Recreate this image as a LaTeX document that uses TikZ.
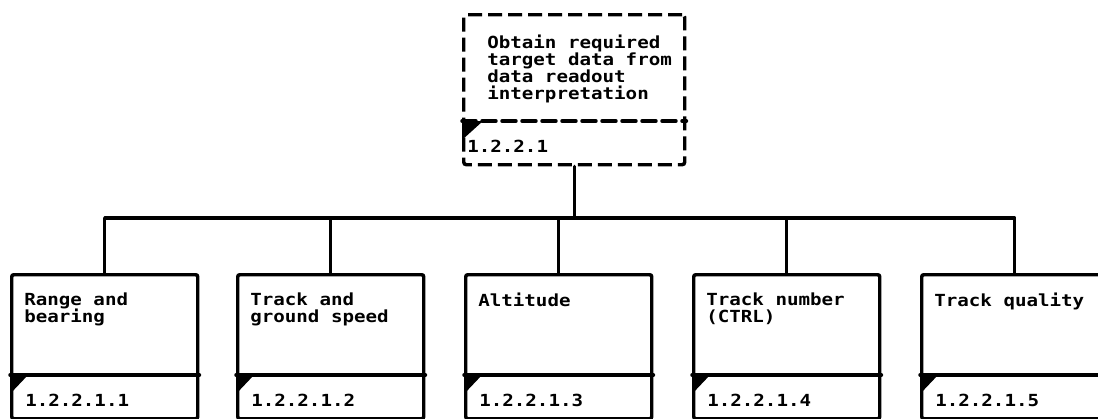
\documentclass[tikz,border=0pt]{standalone}
\usepackage{fontspec}
\newfontfamily\lpfont{DejaVu Sans Mono}[FakeStretch=1.15]
\newcommand\lpsize{\fontsize{12.5}{12.6}\selectfont\lineskiplimit=-20pt}
\begin{document}
\begin{tikzpicture}[x=0.75pt,y=-0.75pt,
  rule/.style={line width=2.6pt, line cap=round, line join=round},
  taskbox/.style={draw, line width=2.6pt, rounded corners=1.5pt, inner sep=0pt,
    minimum width=139.5pt, minimum height=108pt, anchor=north west},
  parentbox/.style={draw, line width=2.6pt, dash pattern=on 10.5pt off 4.5pt,
    rounded corners=2pt, inner sep=0pt,
    minimum width=165.75pt, minimum height=112.5pt, anchor=north west},
  tasktext/.style={font=\lpfont\bfseries\lpsize,
    align=left, inner sep=0pt, anchor=north west},
  tasknum/.style={font=\lpfont\bfseries\lpsize,
    inner sep=0pt, anchor=base west},
  flag/.style={fill=black}]
\useasboundingbox (0,0) rectangle (1098,418);
\clip (0,0) rectangle (1098,418);

% parent activity (dashed)
\node[parentbox] (top) at (462,13) {};
\draw[rule, dash pattern=on 10.5pt off 4.5pt] (top.west |- 0,121) -- (top.east |- 0,121);
\fill[flag] (top.west |- 0,121) -- ++(21,0) -- ++(-21,19) -- cycle;
\node[tasktext] (toptext) at (487,35) {Obtain required\\target data from\\data readout\\interpretation};
\node[tasknum] (topnum) at (467,152) {1.2.2.1};

% sub-activities
\foreach \i/\L/\txt in {1/10/{Range and\\bearing},
                        2/236/{Track and\\ground speed},
                        3/464/{Altitude},
                        4/692/{Track number\\(CTRL)},
                        5/920/{Track quality}}{
  \node[taskbox] (b\i) at (\L,273) {};
  \draw[rule] (b\i.west |- 0,375) -- (b\i.east |- 0,375);
  \fill[flag] (b\i.west |- 0,375) -- ++(18,0) -- ++(-18,19) -- cycle;
  \node[tasktext] (t\i) at (\L+14,293) {\txt};
  \node[tasknum] (n\i) at (\L+15,406) {1.2.2.1.\i};
}

% tree connectors
\coordinate (bus) at (573,218);
\draw[rule] (top.south) -- (top.south |- bus);
\draw[rule] (b1.north) |- (b5.north |- bus) -- (b5.north);
\foreach \i in {2,3,4}{
  \draw[rule] (b\i.north |- bus) -- (b\i.north);
}
\end{tikzpicture}
\end{document}
